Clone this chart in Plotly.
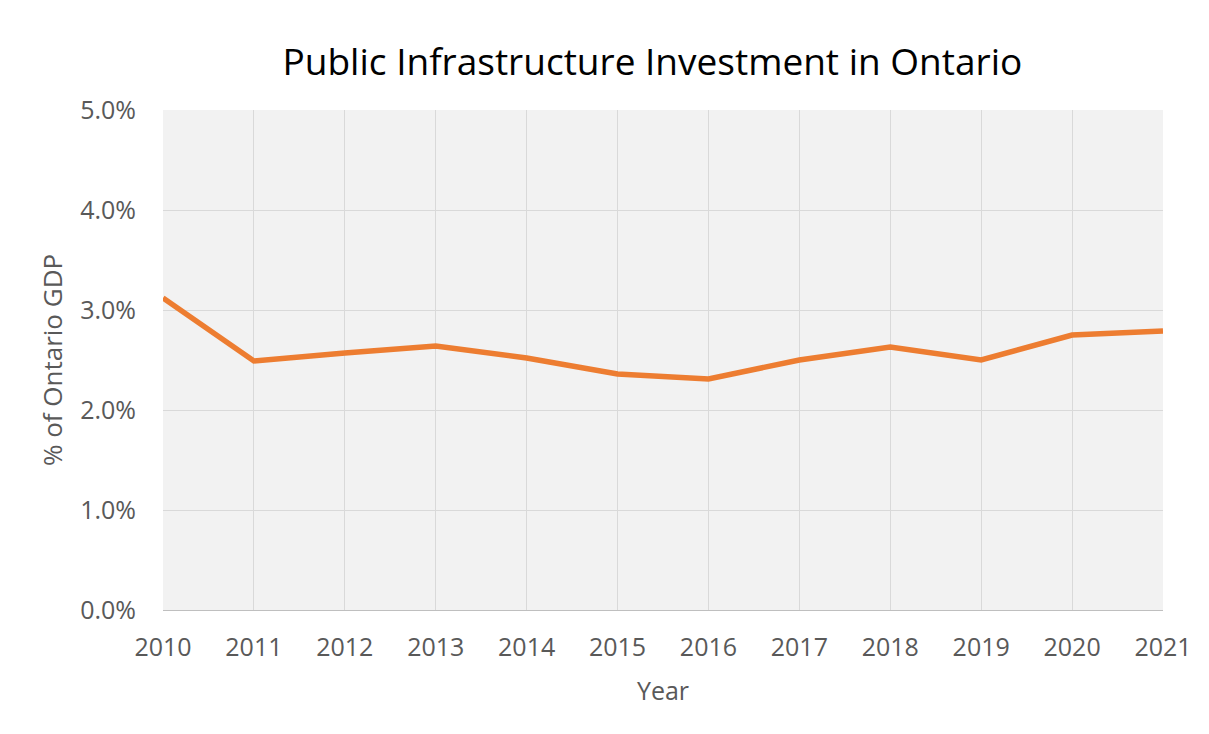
import plotly.graph_objects as go

years = [2010, 2011, 2012, 2013, 2014, 2015, 2016, 2017, 2018, 2019, 2020, 2021]
pct_gdp = [3.12, 2.49, 2.57, 2.64, 2.52, 2.36, 2.31, 2.50, 2.63, 2.50, 2.75, 2.79]
y_ticks = [0, 1, 2, 3, 4, 5]
y_tick_labels = ["0.0%", "1.0%", "2.0%", "3.0%", "4.0%", "5.0%"]

font_family = "Open Sans, Lato, sans-serif"

fig = go.Figure()
fig.add_trace(go.Scatter(
    x=years, y=pct_gdp, mode="lines",
    line=dict(color="#ED7D31", width=5.5),
    showlegend=False, hoverinfo="x+y",
))

fig.update_layout(
    width=1209, height=734,
    margin=dict(l=155, r=54, t=102, b=132),
    paper_bgcolor="white",
    plot_bgcolor="#F2F2F2",
    title=dict(text="Public Infrastructure Investment in Ontario",
               x=0.533, xanchor="center", y=0.926, yanchor="middle",
               font=dict(family=font_family, size=37, color="black")),
    xaxis=dict(
        range=[2010, 2021], tickmode="array", tickvals=years,
        ticktext=[str(y) for y in years],
        showgrid=True, gridcolor="#D9D9D9", gridwidth=1,
        showline=True, linecolor="#BFBFBF", linewidth=1,
        ticks="", zeroline=False, ticklabelstandoff=15,
        tickfont=dict(family=font_family, size=25, color="#595959"),
        title=dict(text="Year", font=dict(family=font_family, size=25, color="#595959"), standoff=20),
    ),
    yaxis=dict(
        range=[0, 5], tickmode="array", tickvals=y_ticks, ticktext=y_tick_labels,
        showgrid=True, gridcolor="#D9D9D9", gridwidth=1,
        zeroline=False, showline=False, ticks="", ticklabelstandoff=26,
        tickfont=dict(family=font_family, size=25, color="#595959"),
        title=dict(text="% of Ontario GDP", font=dict(family=font_family, size=26, color="#595959"), standoff=10),
    ),
)

fig.write_html("out.html")
